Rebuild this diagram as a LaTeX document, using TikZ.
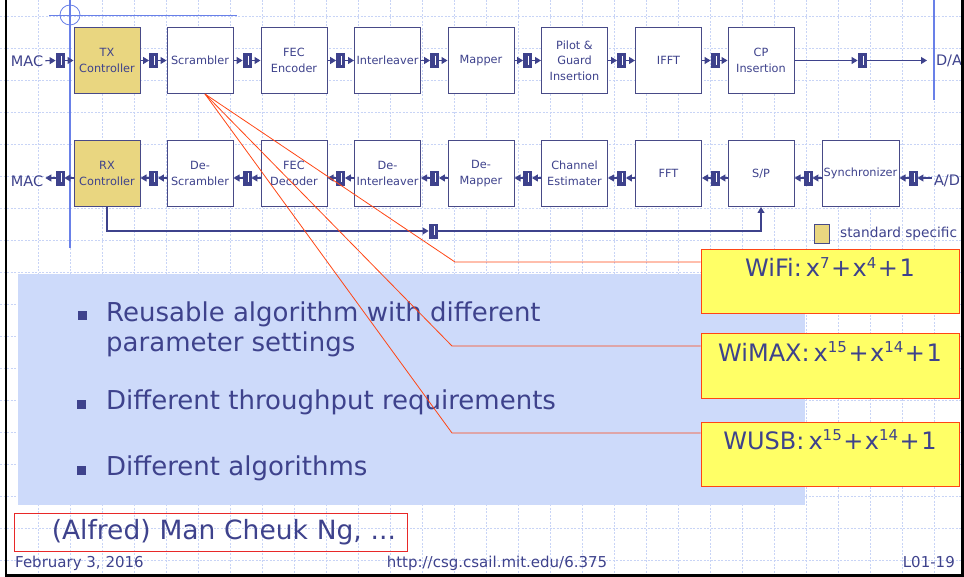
\documentclass[tikz,border=0pt]{standalone}
\usepackage{fontspec}
\setmainfont{DejaVu Sans}
\usetikzlibrary{arrows.meta}

\definecolor{navy}{RGB}{62,66,140}
\definecolor{boxline}{RGB}{72,74,135}
\definecolor{tan}{RGB}{233,214,128}
\definecolor{gridblue}{RGB}{200,212,246}
\definecolor{axisblue}{RGB}{105,128,232}
\definecolor{panelblue}{RGB}{205,218,250}
\definecolor{callred}{RGB}{255,70,20}
\definecolor{noteyellow}{RGB}{255,255,102}
\definecolor{authred}{RGB}{232,40,40}

\newcommand\expo[1]{\raisebox{0.62ex}{\fontsize{15}{15}\selectfont #1}}
\newcommand\pl{\kern1.5pt+\kern1.5pt}

\tikzset{
  raster/.style={gridblue, line width=0.6pt, dash pattern=on 2pt off 1.5pt},
  block/.style={draw=boxline, line width=1pt, fill=white, minimum width=66pt, minimum height=66pt,
    inner sep=1pt, align=center, text=navy, font=\fontsize{11.3}{15.5}\selectfont},
  ctrl/.style={block, fill=tan},
  fifo/.style={draw=navy, fill=navy, line width=0.8pt, minimum width=8pt, minimum height=14pt, inner sep=0pt,
    path picture={\draw[white, line width=0.45pt]
      ([xshift=0.8pt,yshift=-2.5pt]path picture bounding box.north) -- ([xshift=0.8pt,yshift=2.5pt]path picture bounding box.south);}},
  flow/.style={draw=navy, line width=1.1pt, -{Triangle[length=6pt,width=7pt]}},
  redline/.style={draw=callred, line width=0.8pt},
  notebox/.style={draw=callred, line width=1pt, fill=noteyellow, minimum width=258pt, inner ysep=4pt,
    text height=23pt, text depth=33pt, text=navy, font=\fontsize{24}{28}\selectfont},
  tag/.style={text=navy, font=\fontsize{14.5}{17}\selectfont, inner sep=2pt},
  bullet/.style={fill=navy, minimum size=9pt, inner sep=0pt},
  item/.style={text=navy, font=\fontsize{26}{30}\selectfont, align=left, inner sep=0pt},
  foot/.style={text=navy, font=\fontsize{15}{17}\selectfont, inner sep=0pt}
}

\begin{document}
\begin{tikzpicture}[x=1pt, y=-1pt]
  \useasboundingbox (0,0) rectangle (964,577);

  % Raster
  \foreach \gx in {6,38,...,934} \draw[raster] (\gx,0) -- (\gx,577);
  \foreach \gy in {16,48,...,560} \draw[raster] (0,\gy) -- (964,\gy);

  % Hilfslinien blau
  \draw[axisblue, line width=2pt] (70,0) -- (70,248);
  \draw[axisblue, line width=2pt] (934,0) -- (934,100);
  \draw[axisblue, line width=0.8pt] (49,15) -- (237,15);
  \draw[axisblue, line width=0.8pt] (70,15) circle[radius=10];

  % Hintergrund Aufzaehlung
  \fill[panelblue] (18,274) rectangle (805,505);

  % Sender
  \node[ctrl]  (tx)   at (107,60.5)   {TX\\Controller};
  \node[block] (scr)  at (200,60.5)   {Scrambler};
  \node[block] (fec)  at (294,60.5)   {FEC\\Encoder};
  \node[block] (il)   at (387.5,60.5) {Interleaver};
  \node[block] (map)  at (481,60.5)   {Mapper};
  \node[block] (pil)  at (574.5,60.5) {Pilot \&\\Guard\\Insertion};
  \node[block] (ifft) at (668.5,60.5) {IFFT};
  \node[block] (cp)   at (761,60.5)   {CP\\Insertion};

  \foreach \n/\x in {ft0/60, ft1/153.5, ft2/247, ft3/340.5, ft4/434.5, ft5/527.5, ft6/621.5, ft7/715, fto/862}
    \node[fifo] (\n) at (\x,60.5) {};
  \foreach \a/\f/\b in {tx/ft1/scr, scr/ft2/fec, fec/ft3/il, il/ft4/map, map/ft5/pil, pil/ft6/ifft, ifft/ft7/cp}
    {\draw[flow] (\a) -- (\f); \draw[flow] (\f) -- (\b);}

  \node[tag] (mact) at (27,61) {MAC};
  \draw[flow] (mact) -- (ft0);
  \draw[flow] (ft0) -- (tx);
  \node[tag] (da) at (949,61) {D/A};
  \coordinate (dain) at (927,60.5);
  \draw[flow] (cp) -- (fto);
  \draw[flow] (fto) -- (dain);

  % Empfaenger
  \node[ctrl]  (rx)   at (107,173.5)   {RX\\Controller};
  \node[block] (dscr) at (200,173.5)   {De-\\Scrambler};
  \node[block] (fecd) at (294,173.5)   {FEC\\Decoder};
  \node[block] (dil)  at (387.5,173.5) {De-\\Interleaver};
  \node[block] (dmap) at (481,173.5)   {De-\\Mapper};
  \node[block] (chan) at (574.5,173.5) {Channel\\Estimater};
  \node[block] (fft)  at (668.5,173.5) {FFT};
  \node[block] (sp)   at (761,173.5)   {S/P};
  \node[block, minimum width=77pt] (sync) at (860.5,173.5) {Synchronizer};

  \foreach \n/\x in {fb0/60, fb1/153.5, fb2/247, fb3/340.5, fb4/434.5, fb5/527.5, fb6/621.5, fb7/715, fb8/808, fb9/913}
    \node[fifo] (\n) at (\x,178) {};
  \foreach \a/\f/\b in {dscr/fb1/rx, fecd/fb2/dscr, dil/fb3/fecd, dmap/fb4/dil, chan/fb5/dmap, fft/fb6/chan, sp/fb7/fft, sync/fb8/sp}
    {\draw[flow] (\f -| \a.west) -- (\f); \draw[flow] (\f) -- (\f -| \b.east);}

  \node[tag] (macr) at (27,181) {MAC};
  \draw[flow] (fb0 -| rx.west) -- (fb0);
  \draw[flow] (fb0) -- (fb0 -| macr.east);
  \node[tag] (ad) at (947,181) {A/D};
  \draw[flow] (fb9 -| ad.west) -- (fb9);
  \draw[flow] (fb9) -- (fb9 -| sync.east);

  % Rueckkopplung
  \node[fifo] (fk) at (433,231) {};
  \draw[flow] (rx.south) |- (fk);
  \draw[flow] (fk) -| (sp.south);

  % Legende
  \node[draw=boxline, fill=tan, minimum width=15pt, minimum height=19pt, inner sep=0pt] (key) at (821.5,233.5) {};
  \node[anchor=west, text=navy, font=\fontsize{13.7}{16}\selectfont, inner sep=0pt] (keytext) at (840,234) {standard specific};

  % Aufzaehlung
  \node[bullet] (b1) at (82,316) {};
  \node[bullet] (b2) at (81,404) {};
  \node[bullet] (b3) at (81,470) {};
  \node[item, anchor=base west] (it1) at (106,352) {Reusable algorithm with different\\parameter settings};
  \node[item, anchor=base west] (it2) at (106,409) {Different throughput requirements};
  \node[item, anchor=base west] (it3) at (106,475) {Different algorithms};

  % Polynome
  \node[notebox] (wifi)  at (830,282) {WiFi:\,x\expo{7}\pl x\expo{4}\pl 1};
  \node[notebox] (wimax) at (830,366) {WiMAX:\,x\expo{15}\pl x\expo{14}\pl 1};
  \node[notebox] (wusb)  at (830,454) {WUSB:\,x\expo{15}\pl x\expo{14}\pl 1};

  \coordinate (k1) at (455,262);
  \coordinate (k2) at (452,346);
  \coordinate (k3) at (452,433);
  \draw[redline] ([xshift=5pt]scr.south) -- (k1) -- (k1 -| wifi.west);
  \draw[redline] ([xshift=5pt]scr.south) -- (k2) -- (k2 -| wimax.west);
  \draw[redline] ([xshift=5pt]scr.south) -- (k3) -- (k3 -| wusb.west);

  % Autor und Fusszeile
  \node[draw=authred, line width=1pt, minimum width=393pt, minimum height=38pt, text width=371pt,
    align=right, inner xsep=11pt, text=navy, font=\fontsize{26.5}{30}\selectfont] (auth) at (210.5,532) {(Alfred) Man Cheuk Ng, ...};
  \node[foot, anchor=base west] (date) at (15,567) {February 3, 2016};
  \node[foot, anchor=base] (url) at (497,567) {http://csg.csail.mit.edu/6.375};
  \node[foot, anchor=base east] (page) at (955,567) {L01-19};

  % Rahmen
  \draw[line width=2.5pt] (6,0) -- (6,575.5) -- (962.5,575.5) -- (962.5,0);
\end{tikzpicture}
\end{document}
